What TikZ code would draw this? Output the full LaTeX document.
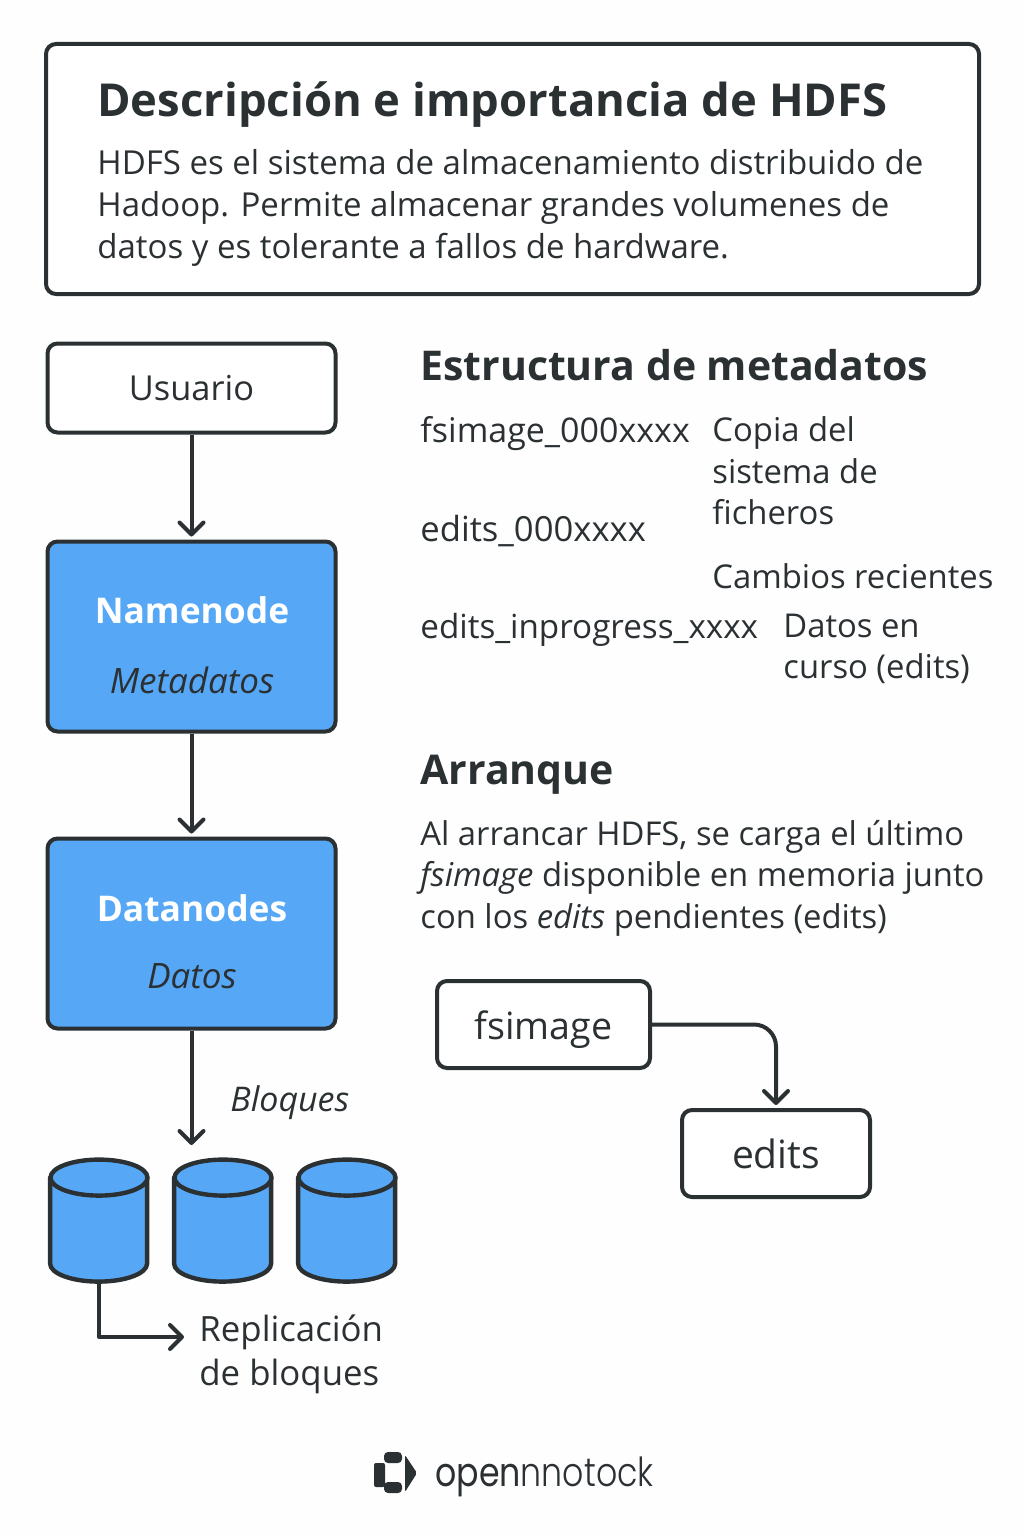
\documentclass[tikz,border=0pt]{standalone}
\usepackage{fontspec}
\setmainfont{Open Sans}
\newfontfamily\logofont{Poppins}
\newfontfamily\logolight{Poppins Light}
\usetikzlibrary{arrows.meta, positioning}
\definecolor{inkdark}{HTML}{2B3033}
\definecolor{nodeblue}{HTML}{56A8F6}
\definecolor{paper}{HTML}{FEFEFE}

\begin{document}
\begin{tikzpicture}[
    x=0.5pt, y=-0.5pt,
    text=inkdark,
    plain/.style={draw=inkdark, line width=2pt, rounded corners=5pt, fill=white, inner sep=0pt, font=\fontsize{18}{22}\selectfont},
    userbox/.style={plain, minimum width=144pt, minimum height=44.5pt, font=\fontsize{17.2}{22}\selectfont},
    bluebox/.style={plain, fill=nodeblue, minimum width=144pt, minimum height=95pt},
    boxtitle/.style={text=white, inner sep=0pt, font=\fontsize{17.7}{22}\selectfont\bfseries},
    boxsub/.style={inner sep=0pt, font=\fontsize{17.5}{22}\selectfont\itshape},
    disk/.style={minimum width=48.5pt, minimum height=61pt, inner sep=0pt},
    diskline/.style={draw=inkdark, line width=2.2pt, fill=nodeblue, line join=round},
    flow/.style={-{Straight Barb[length=6pt, width=12pt, line width=2pt, round]}, draw=inkdark, line width=2pt, line join=round, shorten >=1.5pt},
    heading/.style={anchor=west, inner sep=0pt, font=\fontsize{20.5}{24}\selectfont\bfseries},
    body/.style={anchor=west, inner sep=0pt, align=left, font=\fontsize{16.5}{20.9}\selectfont},
    small/.style={anchor=west, inner sep=0pt, align=left, font=\fontsize{16.4}{20.8}\selectfont}
]
\useasboundingbox[fill=paper] (0,0) rectangle (1024,1536);

% Description box
\node[plain, minimum width=466.5pt, minimum height=125pt] (descbox) at (512.5,169) {};
\node[heading, font=\fontsize{22.7}{27}\selectfont\bfseries] (desctitle) at (97,105) {Descripción e importancia de HDFS};
\node[body] (desctext) at (97,208) {HDFS es el sistema de almacenamiento distribuido de\\Hadoop. Permite almacenar grandes volumenes de\\datos y es tolerante a fallos de hardware.};

% Left column
\node[userbox] (usuario) at (191.5,388) {Usuario};
\node[bluebox] (namenode) at (191.5,636.5) {};
\node[boxtitle] (nntitle) at (192,610) {Namenode};
\node[boxsub] (nnsub) at (192,680) {Metadatos};
\node[bluebox] (datanodes) at (191.5,933.5) {};
\node[boxtitle] (dntitle) at (192,908) {Datanodes};
\node[boxsub] (dnsub) at (192,976) {Datos};
\draw[flow] (usuario) -- (namenode);
\draw[flow] (namenode) -- (datanodes);
\coordinate (blockend) at (191.5,1148);
\draw[flow] (datanodes) -- (blockend);
\node[small, font=\fontsize{17}{20}\selectfont\itshape] (bloques) at (230,1103) {Bloques};

% Disks
\node[disk] (disk1) at (99,1221) {};
\node[disk] (disk2) at (223,1221) {};
\node[disk] (disk3) at (347,1221) {};
\foreach \d in {disk1,disk2,disk3} {
    \draw[diskline] (\d.north west) ++(0,18) -- ++(0,86) arc[start angle=180, end angle=0, x radius=48.5, y radius=18] -- ++(0,-86) -- cycle;
    \draw[diskline] (\d.north) ++(0,18) ellipse[x radius=48.5, y radius=18];
}
\node[body, font=\fontsize{17.4}{22}\selectfont] (replica) at (199,1354) {Replicación\\de bloques};
\coordinate (replend) at (187,1337);
\draw[flow] (disk1.south) |- (replend);

% Metadata structure
\node[heading] (metatitle) at (420,365) {Estructura de metadatos};
\node[small, font=\fontsize{17}{20.8}\selectfont] (fsname) at (420,434) {fsimage\_000xxxx};
\node[small] (fsdesc) at (712,471) {Copia del\\sistema de\\ficheros};
\node[small, font=\fontsize{17.3}{20.8}\selectfont] (edname) at (420,531) {edits\_000xxxx};
\node[small] (eddesc) at (712,576) {Cambios recientes};
\node[small, font=\fontsize{16.6}{20.8}\selectfont] (ipname) at (420,630) {edits\_inprogress\_xxxx};
\node[small] (ipdesc) at (783,649) {Datos en\\curso (edits)};

% Startup
\node[heading] (arrtitle) at (420,775) {Arranque};
\node[small] (arrtext) at (420,878) {Al arrancar HDFS, se carga el último\\{\itshape fsimage} disponible en memoria junto\\con los {\itshape edits} pendientes (edits)};
\node[plain, minimum width=106.5pt, minimum height=43.5pt, font=\fontsize{18.8}{22}\selectfont, text height=14.5pt, text depth=0pt] (fsimage) at (543.5,1024.5) {fsimage};
\node[plain, minimum width=94pt, minimum height=43.5pt, font=\fontsize{19.5}{22}\selectfont] (edits) at (776,1153.5) {edits};
\draw[flow, rounded corners=11pt] (fsimage.east) -| (edits.north);

% Logo
\fill[inkdark, rounded corners=1pt] (374,1463) rectangle (385,1487);
\fill[inkdark, rounded corners=2pt] (384,1452) rectangle (402,1463);
\fill[inkdark, rounded corners=2pt] (384,1482) rectangle (402,1493);
\fill[inkdark, rounded corners=1pt] (405,1455) -- (417,1473) -- (405,1492) -- cycle;
\node[anchor=west, inner sep=0pt, xscale=0.83, font=\fontsize{20}{24}\selectfont] (logotext) at (435,1477) {{\logofont open}{\logolight nnotock}};
\end{tikzpicture}
\end{document}
